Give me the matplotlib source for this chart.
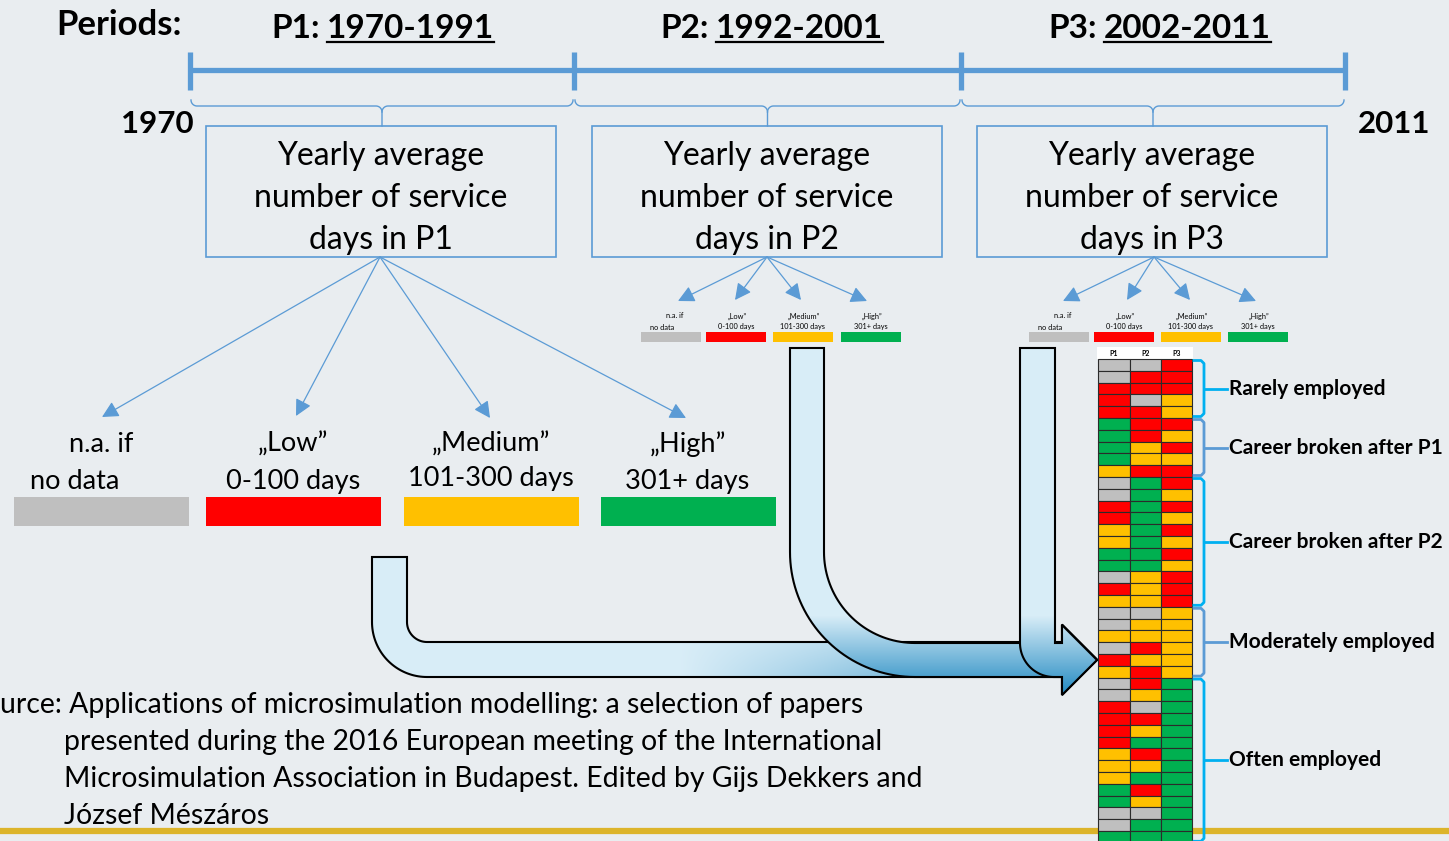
import numpy as np
import matplotlib.pyplot as plt
from matplotlib.patches import Rectangle, PathPatch
from matplotlib.path import Path

plt.rcParams['font.family'] = ['Lato', 'DejaVu Sans']

# ---- data ----
periods = ["P1", "P2", "P3"]
period_years = ["1970-1991", "1992-2001", "2002-2011"]
start_year = "1970"
end_year = "2011"
box_text = ["Yearly average", "number of service", "days in {}"]
cat_top = ["n.a. if", "„Low”", "„Medium”", "„High”"]
cat_bottom = ["no data", "0-100 days", "101-300 days", "301+ days"]
cat_colors = ["#bfbfbf", "#ff0000", "#ffc000", "#00b050"]

# category code of each person in each period: 0 n.a., 1 low, 2 medium, 3 high
p1 = [0, 0, 1, 1, 1, 3, 3, 3, 3, 2, 0, 0, 1, 1, 2, 2, 3, 3, 0, 1, 2,
      0, 0, 2, 0, 1, 2, 0, 0, 1, 1, 1, 1, 2, 2, 2, 3, 3, 0, 0, 3]
p2 = [0, 1, 1, 0, 1, 1, 1, 2, 2, 1, 3, 3, 3, 3, 3, 3, 3, 3, 2, 2, 2,
      0, 2, 2, 1, 2, 1, 1, 2, 0, 1, 2, 3, 1, 2, 3, 1, 2, 0, 3, 3]
p3 = [1, 1, 1, 2, 2, 1, 2, 1, 2, 1, 1, 2, 1, 2, 1, 2, 1, 2, 1, 1, 1,
      2, 2, 2, 2, 2, 2, 3, 3, 3, 3, 3, 3, 3, 3, 3, 3, 3, 3, 3, 3]
groups = ["Rarely employed", "Career broken after P1", "Career broken after P2",
          "Moderately employed", "Often employed"]
group_sizes = [5, 5, 11, 6, 14]
group_colors = ["#00b0f0", "#5b9bd5", "#00b0f0", "#5b9bd5", "#00b0f0"]

source_lines = [
    "urce: Applications of microsimulation modelling: a selection of papers",
    "presented during the 2016 European meeting of the International",
    "Microsimulation Association in Budapest. Edited by Gijs Dekkers and",
    "József Mészáros",
]

bg = "#e9edf0"
blue = "#5b9bd5"

fig = plt.figure(figsize=(14.49, 8.41), dpi=100)
fig.patch.set_facecolor(bg)
ax = fig.add_axes([0, 0, 1, 1])
ax.set_facecolor(bg)
W, H = 1449, 841

# gold line at bottom
ax.plot([0, W], [831, 831], color="#dcb42a", lw=4.5, solid_capstyle="butt", zorder=1)

# ---- timeline ----
ticks = [190, 574, 961, 1345]
ax.plot([ticks[0], ticks[-1]], [70, 70], color=blue, lw=3.8, solid_capstyle="butt", zorder=3)
for x in ticks:
    ax.plot([x, x], [52, 90], color=blue, lw=3.8, solid_capstyle="butt", zorder=3)

ax.text(119, 25, "Periods:", fontsize=25, fontweight="bold", ha="center", va="center")
ax.text(157, 124, start_year, fontsize=22.5, fontweight="bold", ha="center", va="center")
ax.text(1394, 124, end_year, fontsize=22.5, fontweight="bold", ha="center", va="center")

year_texts = []
for i in range(3):
    c = (ticks[i] + ticks[i + 1]) / 2
    split = c - 62 + 3 * i
    ax.text(split, 28, periods[i] + ":", fontsize=24, fontweight="bold", ha="right", va="center")
    t = ax.text(split + 7, 28, period_years[i], fontsize=24, fontweight="bold", ha="left", va="center")
    year_texts.append(t)

    # curly brace under the segment
    x0, x1 = ticks[i] + 1, ticks[i + 1] - 1
    r = 6
    a = np.linspace(np.pi, np.pi / 2, 12)
    bx = list(x0 + r + r * np.cos(a)) + [c - r]
    by = list(92 + r * np.sin(a) + 8) + [106]
    bx += list(c - r + r * np.cos(np.linspace(-np.pi / 2, 0, 12)))
    by += list(106 + r + r * np.sin(np.linspace(-np.pi / 2, 0, 12)))
    bx += [c, c]
    by += [112, 126]
    ax.plot(bx, by, color=blue, lw=1, zorder=3)
    bx2 = [2 * c - v for v in bx[:-2]]
    ax.plot(bx2, by[:-2], color=blue, lw=1, zorder=3)

    # box
    bl, br = c - 176, c + 174
    ax.add_patch(Rectangle((bl, 126), br - bl, 131, fill=False, ec=blue, lw=1.2, zorder=3))
    for k, line in enumerate(box_text):
        ax.text(c - 1, 156 + 42 * k, line.format(periods[i]), fontsize=23,
                ha="center", va="center")

# ---- big category legend for P1 ----
big_x = [101, 293, 491, 688]
big_bars = [(14, 189), (206, 381), (404, 579), (601, 776)]
tips1 = [(102, 417), (296, 416), (490, 418), (686, 418)]
bottom_x = [75, 293, 491, 687]
for k in range(4):
    ax.annotate("", xy=tips1[k], xytext=(380, 257),
                arrowprops=dict(arrowstyle="-|>,head_length=0.55,head_width=0.28",
                                color=blue, lw=0.9, shrinkA=0, shrinkB=0, mutation_scale=18))
    ax.text(big_x[k], 444, cat_top[k], fontsize=19.5, ha="center", va="center")
    ax.text(bottom_x[k], 481 if k != 2 else 478, cat_bottom[k], fontsize=19.5, ha="center", va="center")
    l, rr = big_bars[k]
    ax.add_patch(Rectangle((l, 497), rr - l, 29, color=cat_colors[k], lw=0, zorder=2))

# ---- small legends for P2 and P3 ----
small_sets = [
    (767, [641, 706, 773, 841], [(678, 301), (735, 300), (801, 300), (867, 301)]),
    (1154, [1029, 1094, 1161, 1228], [(1063, 301), (1127, 300), (1190, 300), (1256, 301)]),
]
for cx, lefts, tips in small_sets:
    for k in range(4):
        ax.annotate("", xy=tips[k], xytext=(cx, 257),
                    arrowprops=dict(arrowstyle="-|>,head_length=0.55,head_width=0.28",
                                    color=blue, lw=0.9, shrinkA=0, shrinkB=0, mutation_scale=18))
        mid = lefts[k] + 30
        ax.text(mid + (4 if k == 0 else 1), 316, cat_top[k], fontsize=5.3, ha="center", va="center")
        ax.text(mid - (9 if k == 0 else 0), 327, cat_bottom[k], fontsize=5.3, ha="center", va="center")
        ax.add_patch(Rectangle((lefts[k], 332), 60, 9.5, color=cat_colors[k], lw=0, zorder=2))


# ---- bent gradient arrows ----
def l_arrow(xl, xr, ytop, yb_top, yb_bot, r_out, head_x, head_hw, tip_x, n=40):
    w = xr - xl
    r_in = max(r_out - w, 0)
    cx, cy = xl + r_out, yb_bot - r_out
    ym = (yb_top + yb_bot) / 2
    pts = [(xl, ytop), (xr, ytop)]
    if r_in > 0:
        a = np.linspace(np.pi, np.pi / 2, n)
        pts += list(zip(cx + r_in * np.cos(a), cy + r_in * np.sin(a)))
    else:
        pts.append((xr, yb_top))
    pts += [(head_x, yb_top), (head_x, ym - head_hw), (tip_x, ym),
            (head_x, ym + head_hw), (head_x, yb_bot)]
    a = np.linspace(np.pi / 2, np.pi, n)
    pts += list(zip(cx + r_out * np.cos(a), cy + r_out * np.sin(a)))
    pts.append((xl, ytop))
    return Path(pts, closed=True)


light = np.array([0.85, 0.93, 0.97])
dark = np.array([0.17, 0.56, 0.77])
arrows = [
    (l_arrow(372, 407, 557, 642, 677, 55, 1062, 35, 1097), True),
    (l_arrow(790, 824, 348, 643, 677, 125, 1062, 35, 1097), False),
    (l_arrow(1020, 1055, 348, 643, 677, 34, 1062, 35, 1097), False),
]
for k, (path, first) in enumerate(arrows):
    xs = np.arange(360, 1100)
    ys = np.arange(340, 700)
    X, Y = np.meshgrid(xs, ys)
    t = np.clip((Y - 615) / 75, 0, 1)
    if first:
        t = t * np.clip((X - 680) / 350, 0, 1)
    img = light[None, None, :] * (1 - t[..., None]) + dark[None, None, :] * t[..., None]
    patch = PathPatch(path, fc="none", ec="black", lw=1.5, zorder=5 + k)
    ax.add_patch(patch)
    im = ax.imshow(img, extent=(360, 1100, 700, 340), origin="upper",
                   aspect="auto", zorder=4.9 + k, interpolation="bilinear")
    im.set_clip_path(patch)

# ---- grid of persons ----
gx = [1098, 1130, 1161, 1192]
gy0, rh = 359, 11.8
ax.add_patch(Rectangle((1097, 347), 96, gy0 - 347, color="white", lw=0, zorder=8))
for j, name in enumerate(periods):
    ax.text((gx[j] + gx[j + 1]) / 2, 353, name, fontsize=5, fontweight="bold",
            ha="center", va="center", zorder=9)
for j, col in enumerate([p1, p2, p3]):
    for i, v in enumerate(col):
        ax.add_patch(Rectangle((gx[j], gy0 + i * rh), gx[j + 1] - gx[j], rh,
                               fc=cat_colors[v], ec="#2b2b2b", lw=0.8, zorder=8))

# ---- group braces ----
start = 0
for name, size, col in zip(groups, group_sizes, group_colors):
    top = gy0 + start * rh + 1.5
    bot = gy0 + (start + size) * rh - 1.5
    mid = (top + bot) / 2
    ax.plot([1194, 1201, 1204, 1204, 1201, 1194], [top, top, top + 3, bot - 3, bot, bot],
            color=col, lw=2, zorder=9, solid_joinstyle="round")
    ax.plot([1204, 1227], [mid, mid], color=col, lw=2, zorder=9)
    ax.text(1229, mid, name, fontsize=15, fontweight="bold", ha="left", va="center", zorder=9)
    start += size

# ---- source ----
ax.text(0, 705, source_lines[0], fontsize=20.4, ha="left", va="center")
for k, line in enumerate(source_lines[1:]):
    ax.text(64, 742 + 37 * k, line, fontsize=20.4, ha="left", va="center")

ax.set_xlim(0, W)
ax.set_ylim(H, 0)
ax.axis("off")

# underline the period years
fig.canvas.draw()
inv = ax.transData.inverted()
for t in year_texts:
    bb = t.get_window_extent()
    (xa, ya), (xb, yb) = inv.transform([[bb.x0, bb.y0], [bb.x1, bb.y1]])
    ax.plot([xa, xb], [max(ya, yb) - 1, max(ya, yb) - 1], color="black", lw=1.6)

fig.savefig("out.png", dpi=100, facecolor=bg)
